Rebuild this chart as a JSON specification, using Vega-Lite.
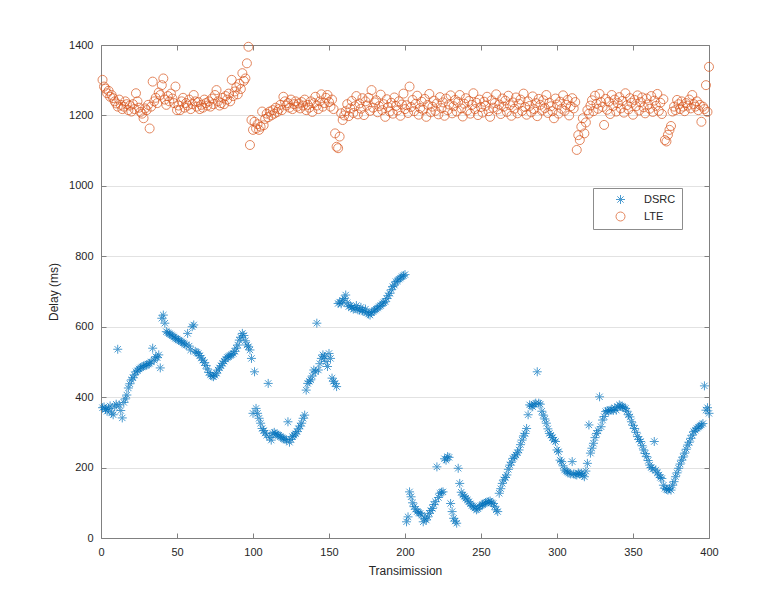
{
"$schema":"https://vega.github.io/schema/vega-lite/v6.json",
"width":608,"height":493,
"autosize":{"type":"none"},
"padding":{"left":101,"top":45,"right":75,"bottom":67},
"background":"white",
"config":{"view":{"stroke":null},
"axis":{"domainColor":"#808080","tickColor":"#808080","labelColor":"#262626","titleColor":"#262626","labelFont":"Liberation Sans","titleFont":"Liberation Sans","labelFontSize":11,"titleFontSize":12,"titleFontWeight":"normal","tickSize":-5,"labelPadding":13,"gridColor":"#e2e2e2","domainWidth":1,"tickWidth":1,"labelFlush":false,"labelOverlap":false,"format":"d"},
"legend":{"orient":"none","legendX":492,"legendY":143,"strokeColor":"#8c8c8c","fillColor":"white","padding":6,"labelFont":"Liberation Sans","labelFontSize":11,"labelColor":"#262626","symbolStrokeWidth":1,"symbolSize":81,"rowPadding":4,"symbolOffset":16,"labelOffset":18}},
"data":{"values":[
{"t":1,"s":"DSRC","v":370},{"t":2,"s":"DSRC","v":372},{"t":3,"s":"DSRC","v":365},{"t":4,"s":"DSRC","v":360},{"t":5,"s":"DSRC","v":368},{"t":6,"s":"DSRC","v":375},{"t":7,"s":"DSRC","v":355},{"t":8,"s":"DSRC","v":350},{"t":9,"s":"DSRC","v":372},{"t":10,"s":"DSRC","v":380},
{"t":11,"s":"DSRC","v":536},{"t":12,"s":"DSRC","v":378},{"t":13,"s":"DSRC","v":362},{"t":14,"s":"DSRC","v":341},{"t":15,"s":"DSRC","v":385},{"t":16,"s":"DSRC","v":395},{"t":17,"s":"DSRC","v":406},{"t":18,"s":"DSRC","v":426},{"t":19,"s":"DSRC","v":438},{"t":20,"s":"DSRC","v":449},
{"t":21,"s":"DSRC","v":455},{"t":22,"s":"DSRC","v":463},{"t":23,"s":"DSRC","v":472},{"t":24,"s":"DSRC","v":475},{"t":25,"s":"DSRC","v":480},{"t":26,"s":"DSRC","v":483},{"t":27,"s":"DSRC","v":486},{"t":28,"s":"DSRC","v":488},{"t":29,"s":"DSRC","v":490},{"t":30,"s":"DSRC","v":491},
{"t":31,"s":"DSRC","v":494},{"t":32,"s":"DSRC","v":496},{"t":33,"s":"DSRC","v":500},{"t":34,"s":"DSRC","v":539},{"t":35,"s":"DSRC","v":505},{"t":36,"s":"DSRC","v":515},{"t":37,"s":"DSRC","v":512},{"t":38,"s":"DSRC","v":520},{"t":39,"s":"DSRC","v":483},{"t":40,"s":"DSRC","v":624},
{"t":41,"s":"DSRC","v":633},{"t":42,"s":"DSRC","v":610},{"t":43,"s":"DSRC","v":586},{"t":44,"s":"DSRC","v":583},{"t":45,"s":"DSRC","v":580},{"t":46,"s":"DSRC","v":577},{"t":47,"s":"DSRC","v":574},{"t":48,"s":"DSRC","v":571},{"t":49,"s":"DSRC","v":567},{"t":50,"s":"DSRC","v":565},
{"t":51,"s":"DSRC","v":562},{"t":52,"s":"DSRC","v":560},{"t":53,"s":"DSRC","v":557},{"t":54,"s":"DSRC","v":554},{"t":55,"s":"DSRC","v":551},{"t":56,"s":"DSRC","v":548},{"t":57,"s":"DSRC","v":581},{"t":58,"s":"DSRC","v":545},{"t":59,"s":"DSRC","v":534},{"t":60,"s":"DSRC","v":600},
{"t":61,"s":"DSRC","v":605},{"t":62,"s":"DSRC","v":530},{"t":63,"s":"DSRC","v":527},{"t":64,"s":"DSRC","v":524},{"t":65,"s":"DSRC","v":518},{"t":66,"s":"DSRC","v":511},{"t":67,"s":"DSRC","v":505},{"t":68,"s":"DSRC","v":498},{"t":69,"s":"DSRC","v":490},{"t":70,"s":"DSRC","v":480},
{"t":71,"s":"DSRC","v":470},{"t":72,"s":"DSRC","v":463},{"t":73,"s":"DSRC","v":460},{"t":74,"s":"DSRC","v":458},{"t":75,"s":"DSRC","v":462},{"t":76,"s":"DSRC","v":468},{"t":77,"s":"DSRC","v":477},{"t":78,"s":"DSRC","v":483},{"t":79,"s":"DSRC","v":489},{"t":80,"s":"DSRC","v":496},
{"t":81,"s":"DSRC","v":502},{"t":82,"s":"DSRC","v":508},{"t":83,"s":"DSRC","v":513},{"t":84,"s":"DSRC","v":515},{"t":85,"s":"DSRC","v":518},{"t":86,"s":"DSRC","v":521},{"t":87,"s":"DSRC","v":524},{"t":88,"s":"DSRC","v":530},{"t":89,"s":"DSRC","v":539},{"t":90,"s":"DSRC","v":548},
{"t":91,"s":"DSRC","v":562},{"t":92,"s":"DSRC","v":570},{"t":93,"s":"DSRC","v":581},{"t":94,"s":"DSRC","v":575},{"t":95,"s":"DSRC","v":560},{"t":96,"s":"DSRC","v":548},{"t":97,"s":"DSRC","v":543},{"t":98,"s":"DSRC","v":534},{"t":99,"s":"DSRC","v":510},{"t":100,"s":"DSRC","v":354},
{"t":101,"s":"DSRC","v":472},{"t":102,"s":"DSRC","v":368},{"t":103,"s":"DSRC","v":354},{"t":104,"s":"DSRC","v":340},{"t":105,"s":"DSRC","v":326},{"t":106,"s":"DSRC","v":311},{"t":107,"s":"DSRC","v":305},{"t":108,"s":"DSRC","v":298},{"t":109,"s":"DSRC","v":292},{"t":110,"s":"DSRC","v":439},
{"t":111,"s":"DSRC","v":285},{"t":112,"s":"DSRC","v":278},{"t":113,"s":"DSRC","v":297},{"t":114,"s":"DSRC","v":300},{"t":115,"s":"DSRC","v":295},{"t":116,"s":"DSRC","v":293},{"t":117,"s":"DSRC","v":292},{"t":118,"s":"DSRC","v":288},{"t":119,"s":"DSRC","v":285},{"t":120,"s":"DSRC","v":282},
{"t":121,"s":"DSRC","v":280},{"t":122,"s":"DSRC","v":278},{"t":123,"s":"DSRC","v":330},{"t":124,"s":"DSRC","v":272},{"t":125,"s":"DSRC","v":280},{"t":126,"s":"DSRC","v":288},{"t":127,"s":"DSRC","v":292},{"t":128,"s":"DSRC","v":296},{"t":129,"s":"DSRC","v":302},{"t":130,"s":"DSRC","v":310},
{"t":131,"s":"DSRC","v":318},{"t":132,"s":"DSRC","v":326},{"t":133,"s":"DSRC","v":340},{"t":134,"s":"DSRC","v":349},{"t":135,"s":"DSRC","v":420},{"t":136,"s":"DSRC","v":439},{"t":137,"s":"DSRC","v":445},{"t":138,"s":"DSRC","v":449},{"t":139,"s":"DSRC","v":460},{"t":140,"s":"DSRC","v":477},
{"t":141,"s":"DSRC","v":472},{"t":142,"s":"DSRC","v":610},{"t":143,"s":"DSRC","v":477},{"t":144,"s":"DSRC","v":495},{"t":145,"s":"DSRC","v":510},{"t":146,"s":"DSRC","v":520},{"t":147,"s":"DSRC","v":515},{"t":148,"s":"DSRC","v":501},{"t":149,"s":"DSRC","v":487},{"t":150,"s":"DSRC","v":524},
{"t":151,"s":"DSRC","v":510},{"t":152,"s":"DSRC","v":454},{"t":153,"s":"DSRC","v":445},{"t":154,"s":"DSRC","v":439},{"t":155,"s":"DSRC","v":430},{"t":156,"s":"DSRC","v":666},{"t":157,"s":"DSRC","v":670},{"t":158,"s":"DSRC","v":665},{"t":159,"s":"DSRC","v":675},{"t":160,"s":"DSRC","v":680},
{"t":161,"s":"DSRC","v":690},{"t":162,"s":"DSRC","v":668},{"t":163,"s":"DSRC","v":657},{"t":164,"s":"DSRC","v":660},{"t":165,"s":"DSRC","v":655},{"t":166,"s":"DSRC","v":650},{"t":167,"s":"DSRC","v":652},{"t":168,"s":"DSRC","v":660},{"t":169,"s":"DSRC","v":648},{"t":170,"s":"DSRC","v":647},
{"t":171,"s":"DSRC","v":655},{"t":172,"s":"DSRC","v":645},{"t":173,"s":"DSRC","v":643},{"t":174,"s":"DSRC","v":650},{"t":175,"s":"DSRC","v":640},{"t":176,"s":"DSRC","v":636},{"t":177,"s":"DSRC","v":633},{"t":178,"s":"DSRC","v":640},{"t":179,"s":"DSRC","v":643},{"t":180,"s":"DSRC","v":647},
{"t":181,"s":"DSRC","v":650},{"t":182,"s":"DSRC","v":653},{"t":183,"s":"DSRC","v":657},{"t":184,"s":"DSRC","v":660},{"t":185,"s":"DSRC","v":665},{"t":186,"s":"DSRC","v":668},{"t":187,"s":"DSRC","v":671},{"t":188,"s":"DSRC","v":680},{"t":189,"s":"DSRC","v":688},{"t":190,"s":"DSRC","v":695},
{"t":191,"s":"DSRC","v":705},{"t":192,"s":"DSRC","v":714},{"t":193,"s":"DSRC","v":718},{"t":194,"s":"DSRC","v":728},{"t":195,"s":"DSRC","v":730},{"t":196,"s":"DSRC","v":735},{"t":197,"s":"DSRC","v":738},{"t":198,"s":"DSRC","v":742},{"t":199,"s":"DSRC","v":745},{"t":200,"s":"DSRC","v":748},
{"t":201,"s":"DSRC","v":46},{"t":202,"s":"DSRC","v":60},{"t":203,"s":"DSRC","v":131},{"t":204,"s":"DSRC","v":117},{"t":205,"s":"DSRC","v":100},{"t":206,"s":"DSRC","v":89},{"t":207,"s":"DSRC","v":82},{"t":208,"s":"DSRC","v":75},{"t":209,"s":"DSRC","v":72},{"t":210,"s":"DSRC","v":70},
{"t":211,"s":"DSRC","v":65},{"t":212,"s":"DSRC","v":46},{"t":213,"s":"DSRC","v":55},{"t":214,"s":"DSRC","v":51},{"t":215,"s":"DSRC","v":60},{"t":216,"s":"DSRC","v":70},{"t":217,"s":"DSRC","v":78},{"t":218,"s":"DSRC","v":84},{"t":219,"s":"DSRC","v":95},{"t":220,"s":"DSRC","v":103},
{"t":221,"s":"DSRC","v":202},{"t":222,"s":"DSRC","v":115},{"t":223,"s":"DSRC","v":127},{"t":224,"s":"DSRC","v":130},{"t":225,"s":"DSRC","v":131},{"t":226,"s":"DSRC","v":225},{"t":227,"s":"DSRC","v":221},{"t":228,"s":"DSRC","v":231},{"t":229,"s":"DSRC","v":229},{"t":230,"s":"DSRC","v":98},
{"t":231,"s":"DSRC","v":75},{"t":232,"s":"DSRC","v":56},{"t":233,"s":"DSRC","v":48},{"t":234,"s":"DSRC","v":42},{"t":235,"s":"DSRC","v":198},{"t":236,"s":"DSRC","v":155},{"t":237,"s":"DSRC","v":130},{"t":238,"s":"DSRC","v":122},{"t":239,"s":"DSRC","v":118},{"t":240,"s":"DSRC","v":113},
{"t":241,"s":"DSRC","v":108},{"t":242,"s":"DSRC","v":103},{"t":243,"s":"DSRC","v":97},{"t":244,"s":"DSRC","v":92},{"t":245,"s":"DSRC","v":89},{"t":246,"s":"DSRC","v":85},{"t":247,"s":"DSRC","v":80},{"t":248,"s":"DSRC","v":83},{"t":249,"s":"DSRC","v":89},{"t":250,"s":"DSRC","v":92},
{"t":251,"s":"DSRC","v":95},{"t":252,"s":"DSRC","v":98},{"t":253,"s":"DSRC","v":100},{"t":254,"s":"DSRC","v":102},{"t":255,"s":"DSRC","v":103},{"t":256,"s":"DSRC","v":105},{"t":257,"s":"DSRC","v":100},{"t":258,"s":"DSRC","v":98},{"t":259,"s":"DSRC","v":90},{"t":260,"s":"DSRC","v":80},
{"t":261,"s":"DSRC","v":75},{"t":262,"s":"DSRC","v":127},{"t":263,"s":"DSRC","v":140},{"t":264,"s":"DSRC","v":155},{"t":265,"s":"DSRC","v":165},{"t":266,"s":"DSRC","v":172},{"t":267,"s":"DSRC","v":179},{"t":268,"s":"DSRC","v":195},{"t":269,"s":"DSRC","v":207},{"t":270,"s":"DSRC","v":215},
{"t":271,"s":"DSRC","v":226},{"t":272,"s":"DSRC","v":230},{"t":273,"s":"DSRC","v":236},{"t":274,"s":"DSRC","v":242},{"t":275,"s":"DSRC","v":250},{"t":276,"s":"DSRC","v":265},{"t":277,"s":"DSRC","v":278},{"t":278,"s":"DSRC","v":290},{"t":279,"s":"DSRC","v":297},{"t":280,"s":"DSRC","v":311},
{"t":281,"s":"DSRC","v":350},{"t":282,"s":"DSRC","v":378},{"t":283,"s":"DSRC","v":375},{"t":284,"s":"DSRC","v":373},{"t":285,"s":"DSRC","v":380},{"t":286,"s":"DSRC","v":383},{"t":287,"s":"DSRC","v":472},{"t":288,"s":"DSRC","v":383},{"t":289,"s":"DSRC","v":380},{"t":290,"s":"DSRC","v":360},
{"t":291,"s":"DSRC","v":349},{"t":292,"s":"DSRC","v":338},{"t":293,"s":"DSRC","v":326},{"t":294,"s":"DSRC","v":310},{"t":295,"s":"DSRC","v":297},{"t":296,"s":"DSRC","v":292},{"t":297,"s":"DSRC","v":285},{"t":298,"s":"DSRC","v":278},{"t":299,"s":"DSRC","v":274},{"t":300,"s":"DSRC","v":250},
{"t":301,"s":"DSRC","v":245},{"t":302,"s":"DSRC","v":221},{"t":303,"s":"DSRC","v":217},{"t":304,"s":"DSRC","v":205},{"t":305,"s":"DSRC","v":193},{"t":306,"s":"DSRC","v":190},{"t":307,"s":"DSRC","v":187},{"t":308,"s":"DSRC","v":184},{"t":309,"s":"DSRC","v":182},{"t":310,"s":"DSRC","v":217},
{"t":311,"s":"DSRC","v":182},{"t":312,"s":"DSRC","v":180},{"t":313,"s":"DSRC","v":179},{"t":314,"s":"DSRC","v":185},{"t":315,"s":"DSRC","v":182},{"t":316,"s":"DSRC","v":184},{"t":317,"s":"DSRC","v":178},{"t":318,"s":"DSRC","v":174},{"t":319,"s":"DSRC","v":190},{"t":320,"s":"DSRC","v":212},
{"t":321,"s":"DSRC","v":321},{"t":322,"s":"DSRC","v":241},{"t":323,"s":"DSRC","v":255},{"t":324,"s":"DSRC","v":269},{"t":325,"s":"DSRC","v":285},{"t":326,"s":"DSRC","v":297},{"t":327,"s":"DSRC","v":305},{"t":328,"s":"DSRC","v":401},{"t":329,"s":"DSRC","v":316},{"t":330,"s":"DSRC","v":335},
{"t":331,"s":"DSRC","v":345},{"t":332,"s":"DSRC","v":359},{"t":333,"s":"DSRC","v":362},{"t":334,"s":"DSRC","v":360},{"t":335,"s":"DSRC","v":363},{"t":336,"s":"DSRC","v":365},{"t":337,"s":"DSRC","v":362},{"t":338,"s":"DSRC","v":370},{"t":339,"s":"DSRC","v":363},{"t":340,"s":"DSRC","v":372},
{"t":341,"s":"DSRC","v":378},{"t":342,"s":"DSRC","v":375},{"t":343,"s":"DSRC","v":373},{"t":344,"s":"DSRC","v":370},{"t":345,"s":"DSRC","v":368},{"t":346,"s":"DSRC","v":360},{"t":347,"s":"DSRC","v":350},{"t":348,"s":"DSRC","v":344},{"t":349,"s":"DSRC","v":330},{"t":350,"s":"DSRC","v":320},
{"t":351,"s":"DSRC","v":311},{"t":352,"s":"DSRC","v":300},{"t":353,"s":"DSRC","v":288},{"t":354,"s":"DSRC","v":280},{"t":355,"s":"DSRC","v":274},{"t":356,"s":"DSRC","v":262},{"t":357,"s":"DSRC","v":250},{"t":358,"s":"DSRC","v":240},{"t":359,"s":"DSRC","v":231},{"t":360,"s":"DSRC","v":220},
{"t":361,"s":"DSRC","v":207},{"t":362,"s":"DSRC","v":200},{"t":363,"s":"DSRC","v":196},{"t":364,"s":"DSRC","v":274},{"t":365,"s":"DSRC","v":193},{"t":366,"s":"DSRC","v":185},{"t":367,"s":"DSRC","v":179},{"t":368,"s":"DSRC","v":172},{"t":369,"s":"DSRC","v":169},{"t":370,"s":"DSRC","v":150},
{"t":371,"s":"DSRC","v":141},{"t":372,"s":"DSRC","v":138},{"t":373,"s":"DSRC","v":136},{"t":374,"s":"DSRC","v":140},{"t":375,"s":"DSRC","v":136},{"t":376,"s":"DSRC","v":150},{"t":377,"s":"DSRC","v":160},{"t":378,"s":"DSRC","v":174},{"t":379,"s":"DSRC","v":185},{"t":380,"s":"DSRC","v":198},
{"t":381,"s":"DSRC","v":210},{"t":382,"s":"DSRC","v":221},{"t":383,"s":"DSRC","v":230},{"t":384,"s":"DSRC","v":241},{"t":385,"s":"DSRC","v":252},{"t":386,"s":"DSRC","v":264},{"t":387,"s":"DSRC","v":272},{"t":388,"s":"DSRC","v":283},{"t":389,"s":"DSRC","v":292},{"t":390,"s":"DSRC","v":302},
{"t":391,"s":"DSRC","v":306},{"t":392,"s":"DSRC","v":311},{"t":393,"s":"DSRC","v":315},{"t":394,"s":"DSRC","v":318},{"t":395,"s":"DSRC","v":321},{"t":396,"s":"DSRC","v":325},{"t":397,"s":"DSRC","v":432},{"t":398,"s":"DSRC","v":363},{"t":399,"s":"DSRC","v":370},{"t":400,"s":"DSRC","v":354},
{"t":1,"s":"LTE","v":1301},{"t":2,"s":"LTE","v":1282},{"t":3,"s":"LTE","v":1276},{"t":4,"s":"LTE","v":1263},{"t":5,"s":"LTE","v":1270},{"t":6,"s":"LTE","v":1253},{"t":7,"s":"LTE","v":1258},{"t":8,"s":"LTE","v":1249},{"t":9,"s":"LTE","v":1240},{"t":10,"s":"LTE","v":1234},
{"t":11,"s":"LTE","v":1225},{"t":12,"s":"LTE","v":1245},{"t":13,"s":"LTE","v":1230},{"t":14,"s":"LTE","v":1218},{"t":15,"s":"LTE","v":1225},{"t":16,"s":"LTE","v":1240},{"t":17,"s":"LTE","v":1232},{"t":18,"s":"LTE","v":1215},{"t":19,"s":"LTE","v":1228},{"t":20,"s":"LTE","v":1211},
{"t":21,"s":"LTE","v":1232},{"t":22,"s":"LTE","v":1218},{"t":23,"s":"LTE","v":1263},{"t":24,"s":"LTE","v":1240},{"t":25,"s":"LTE","v":1222},{"t":26,"s":"LTE","v":1210},{"t":27,"s":"LTE","v":1205},{"t":28,"s":"LTE","v":1192},{"t":29,"s":"LTE","v":1220},{"t":30,"s":"LTE","v":1215},
{"t":31,"s":"LTE","v":1230},{"t":32,"s":"LTE","v":1163},{"t":33,"s":"LTE","v":1225},{"t":34,"s":"LTE","v":1296},{"t":35,"s":"LTE","v":1240},{"t":36,"s":"LTE","v":1250},{"t":37,"s":"LTE","v":1235},{"t":38,"s":"LTE","v":1265},{"t":39,"s":"LTE","v":1258},{"t":40,"s":"LTE","v":1286},
{"t":41,"s":"LTE","v":1305},{"t":42,"s":"LTE","v":1245},{"t":43,"s":"LTE","v":1230},{"t":44,"s":"LTE","v":1255},{"t":45,"s":"LTE","v":1240},{"t":46,"s":"LTE","v":1262},{"t":47,"s":"LTE","v":1248},{"t":48,"s":"LTE","v":1235},{"t":49,"s":"LTE","v":1282},{"t":50,"s":"LTE","v":1215},
{"t":51,"s":"LTE","v":1228},{"t":52,"s":"LTE","v":1215},{"t":53,"s":"LTE","v":1240},{"t":54,"s":"LTE","v":1250},{"t":55,"s":"LTE","v":1222},{"t":56,"s":"LTE","v":1235},{"t":57,"s":"LTE","v":1228},{"t":58,"s":"LTE","v":1245},{"t":59,"s":"LTE","v":1218},{"t":60,"s":"LTE","v":1232},
{"t":61,"s":"LTE","v":1258},{"t":62,"s":"LTE","v":1240},{"t":63,"s":"LTE","v":1225},{"t":64,"s":"LTE","v":1238},{"t":65,"s":"LTE","v":1218},{"t":66,"s":"LTE","v":1230},{"t":67,"s":"LTE","v":1222},{"t":68,"s":"LTE","v":1245},{"t":69,"s":"LTE","v":1235},{"t":70,"s":"LTE","v":1228},
{"t":71,"s":"LTE","v":1240},{"t":72,"s":"LTE","v":1225},{"t":73,"s":"LTE","v":1248},{"t":74,"s":"LTE","v":1232},{"t":75,"s":"LTE","v":1258},{"t":76,"s":"LTE","v":1272},{"t":77,"s":"LTE","v":1240},{"t":78,"s":"LTE","v":1228},{"t":79,"s":"LTE","v":1235},{"t":80,"s":"LTE","v":1250},
{"t":81,"s":"LTE","v":1232},{"t":82,"s":"LTE","v":1255},{"t":83,"s":"LTE","v":1245},{"t":84,"s":"LTE","v":1262},{"t":85,"s":"LTE","v":1240},{"t":86,"s":"LTE","v":1301},{"t":87,"s":"LTE","v":1255},{"t":88,"s":"LTE","v":1268},{"t":89,"s":"LTE","v":1280},{"t":90,"s":"LTE","v":1260},
{"t":91,"s":"LTE","v":1290},{"t":92,"s":"LTE","v":1275},{"t":93,"s":"LTE","v":1320},{"t":94,"s":"LTE","v":1298},{"t":95,"s":"LTE","v":1305},{"t":96,"s":"LTE","v":1348},{"t":97,"s":"LTE","v":1395},{"t":98,"s":"LTE","v":1116},{"t":99,"s":"LTE","v":1187},{"t":100,"s":"LTE","v":1159},
{"t":101,"s":"LTE","v":1182},{"t":102,"s":"LTE","v":1163},{"t":103,"s":"LTE","v":1175},{"t":104,"s":"LTE","v":1159},{"t":105,"s":"LTE","v":1168},{"t":106,"s":"LTE","v":1211},{"t":107,"s":"LTE","v":1172},{"t":108,"s":"LTE","v":1190},{"t":109,"s":"LTE","v":1205},{"t":110,"s":"LTE","v":1195},
{"t":111,"s":"LTE","v":1211},{"t":112,"s":"LTE","v":1200},{"t":113,"s":"LTE","v":1215},{"t":114,"s":"LTE","v":1205},{"t":115,"s":"LTE","v":1222},{"t":116,"s":"LTE","v":1210},{"t":117,"s":"LTE","v":1218},{"t":118,"s":"LTE","v":1230},{"t":119,"s":"LTE","v":1215},{"t":120,"s":"LTE","v":1253},
{"t":121,"s":"LTE","v":1240},{"t":122,"s":"LTE","v":1228},{"t":123,"s":"LTE","v":1235},{"t":124,"s":"LTE","v":1222},{"t":125,"s":"LTE","v":1245},{"t":126,"s":"LTE","v":1218},{"t":127,"s":"LTE","v":1232},{"t":128,"s":"LTE","v":1240},{"t":129,"s":"LTE","v":1225},{"t":130,"s":"LTE","v":1234},
{"t":131,"s":"LTE","v":1220},{"t":132,"s":"LTE","v":1238},{"t":133,"s":"LTE","v":1228},{"t":134,"s":"LTE","v":1245},{"t":135,"s":"LTE","v":1215},{"t":136,"s":"LTE","v":1230},{"t":137,"s":"LTE","v":1222},{"t":138,"s":"LTE","v":1240},{"t":139,"s":"LTE","v":1210},{"t":140,"s":"LTE","v":1235},
{"t":141,"s":"LTE","v":1253},{"t":142,"s":"LTE","v":1228},{"t":143,"s":"LTE","v":1218},{"t":144,"s":"LTE","v":1240},{"t":145,"s":"LTE","v":1260},{"t":146,"s":"LTE","v":1225},{"t":147,"s":"LTE","v":1235},{"t":148,"s":"LTE","v":1250},{"t":149,"s":"LTE","v":1258},{"t":150,"s":"LTE","v":1238},
{"t":151,"s":"LTE","v":1225},{"t":152,"s":"LTE","v":1245},{"t":153,"s":"LTE","v":1218},{"t":154,"s":"LTE","v":1149},{"t":155,"s":"LTE","v":1111},{"t":156,"s":"LTE","v":1107},{"t":157,"s":"LTE","v":1140},{"t":158,"s":"LTE","v":1206},{"t":159,"s":"LTE","v":1187},{"t":160,"s":"LTE","v":1200},
{"t":161,"s":"LTE","v":1212},{"t":162,"s":"LTE","v":1232},{"t":163,"s":"LTE","v":1198},{"t":164,"s":"LTE","v":1220},{"t":165,"s":"LTE","v":1241},{"t":166,"s":"LTE","v":1207},{"t":167,"s":"LTE","v":1226},{"t":168,"s":"LTE","v":1255},{"t":169,"s":"LTE","v":1203},{"t":170,"s":"LTE","v":1234},
{"t":171,"s":"LTE","v":1219},{"t":172,"s":"LTE","v":1249},{"t":173,"s":"LTE","v":1201},{"t":174,"s":"LTE","v":1240},{"t":175,"s":"LTE","v":1228},{"t":176,"s":"LTE","v":1250},{"t":177,"s":"LTE","v":1213},{"t":178,"s":"LTE","v":1272},{"t":179,"s":"LTE","v":1222},{"t":180,"s":"LTE","v":1237},
{"t":181,"s":"LTE","v":1243},{"t":182,"s":"LTE","v":1209},{"t":183,"s":"LTE","v":1226},{"t":184,"s":"LTE","v":1259},{"t":185,"s":"LTE","v":1215},{"t":186,"s":"LTE","v":1232},{"t":187,"s":"LTE","v":1196},{"t":188,"s":"LTE","v":1246},{"t":189,"s":"LTE","v":1224},{"t":190,"s":"LTE","v":1211},
{"t":191,"s":"LTE","v":1236},{"t":192,"s":"LTE","v":1205},{"t":193,"s":"LTE","v":1251},{"t":194,"s":"LTE","v":1227},{"t":195,"s":"LTE","v":1214},{"t":196,"s":"LTE","v":1240},{"t":197,"s":"LTE","v":1199},{"t":198,"s":"LTE","v":1231},{"t":199,"s":"LTE","v":1262},{"t":200,"s":"LTE","v":1218},
{"t":201,"s":"LTE","v":1229},{"t":202,"s":"LTE","v":1207},{"t":203,"s":"LTE","v":1282},{"t":204,"s":"LTE","v":1224},{"t":205,"s":"LTE","v":1244},{"t":206,"s":"LTE","v":1212},{"t":207,"s":"LTE","v":1233},{"t":208,"s":"LTE","v":1256},{"t":209,"s":"LTE","v":1202},{"t":210,"s":"LTE","v":1221},
{"t":211,"s":"LTE","v":1239},{"t":212,"s":"LTE","v":1216},{"t":213,"s":"LTE","v":1247},{"t":214,"s":"LTE","v":1196},{"t":215,"s":"LTE","v":1230},{"t":216,"s":"LTE","v":1261},{"t":217,"s":"LTE","v":1209},{"t":218,"s":"LTE","v":1225},{"t":219,"s":"LTE","v":1242},{"t":220,"s":"LTE","v":1213},
{"t":221,"s":"LTE","v":1234},{"t":222,"s":"LTE","v":1203},{"t":223,"s":"LTE","v":1252},{"t":224,"s":"LTE","v":1221},{"t":225,"s":"LTE","v":1237},{"t":226,"s":"LTE","v":1199},{"t":227,"s":"LTE","v":1248},{"t":228,"s":"LTE","v":1215},{"t":229,"s":"LTE","v":1231},{"t":230,"s":"LTE","v":1257},
{"t":231,"s":"LTE","v":1206},{"t":232,"s":"LTE","v":1226},{"t":233,"s":"LTE","v":1244},{"t":234,"s":"LTE","v":1211},{"t":235,"s":"LTE","v":1238},{"t":236,"s":"LTE","v":1258},{"t":237,"s":"LTE","v":1220},{"t":238,"s":"LTE","v":1197},{"t":239,"s":"LTE","v":1233},{"t":240,"s":"LTE","v":1249},
{"t":241,"s":"LTE","v":1214},{"t":242,"s":"LTE","v":1241},{"t":243,"s":"LTE","v":1205},{"t":244,"s":"LTE","v":1230},{"t":245,"s":"LTE","v":1263},{"t":246,"s":"LTE","v":1218},{"t":247,"s":"LTE","v":1236},{"t":248,"s":"LTE","v":1201},{"t":249,"s":"LTE","v":1245},{"t":250,"s":"LTE","v":1224},
{"t":251,"s":"LTE","v":1208},{"t":252,"s":"LTE","v":1239},{"t":253,"s":"LTE","v":1227},{"t":254,"s":"LTE","v":1253},{"t":255,"s":"LTE","v":1212},{"t":256,"s":"LTE","v":1196},{"t":257,"s":"LTE","v":1243},{"t":258,"s":"LTE","v":1222},{"t":259,"s":"LTE","v":1235},{"t":260,"s":"LTE","v":1260},
{"t":261,"s":"LTE","v":1217},{"t":262,"s":"LTE","v":1231},{"t":263,"s":"LTE","v":1204},{"t":264,"s":"LTE","v":1248},{"t":265,"s":"LTE","v":1225},{"t":266,"s":"LTE","v":1242},{"t":267,"s":"LTE","v":1210},{"t":268,"s":"LTE","v":1256},{"t":269,"s":"LTE","v":1229},{"t":270,"s":"LTE","v":1199},
{"t":271,"s":"LTE","v":1237},{"t":272,"s":"LTE","v":1219},{"t":273,"s":"LTE","v":1251},{"t":274,"s":"LTE","v":1206},{"t":275,"s":"LTE","v":1233},{"t":276,"s":"LTE","v":1245},{"t":277,"s":"LTE","v":1213},{"t":278,"s":"LTE","v":1262},{"t":279,"s":"LTE","v":1224},{"t":280,"s":"LTE","v":1202},
{"t":281,"s":"LTE","v":1240},{"t":282,"s":"LTE","v":1227},{"t":283,"s":"LTE","v":1209},{"t":284,"s":"LTE","v":1254},{"t":285,"s":"LTE","v":1218},{"t":286,"s":"LTE","v":1235},{"t":287,"s":"LTE","v":1198},{"t":288,"s":"LTE","v":1247},{"t":289,"s":"LTE","v":1230},{"t":290,"s":"LTE","v":1214},
{"t":291,"s":"LTE","v":1243},{"t":292,"s":"LTE","v":1221},{"t":293,"s":"LTE","v":1258},{"t":294,"s":"LTE","v":1207},{"t":295,"s":"LTE","v":1236},{"t":296,"s":"LTE","v":1226},{"t":297,"s":"LTE","v":1212},{"t":298,"s":"LTE","v":1192},{"t":299,"s":"LTE","v":1248},{"t":300,"s":"LTE","v":1231},
{"t":301,"s":"LTE","v":1205},{"t":302,"s":"LTE","v":1239},{"t":303,"s":"LTE","v":1219},{"t":304,"s":"LTE","v":1257},{"t":305,"s":"LTE","v":1213},{"t":306,"s":"LTE","v":1230},{"t":307,"s":"LTE","v":1244},{"t":308,"s":"LTE","v":1200},{"t":309,"s":"LTE","v":1226},{"t":310,"s":"LTE","v":1249},
{"t":311,"s":"LTE","v":1220},{"t":312,"s":"LTE","v":1238},{"t":313,"s":"LTE","v":1102},{"t":314,"s":"LTE","v":1144},{"t":315,"s":"LTE","v":1130},{"t":316,"s":"LTE","v":1168},{"t":317,"s":"LTE","v":1192},{"t":318,"s":"LTE","v":1149},{"t":319,"s":"LTE","v":1180},{"t":320,"s":"LTE","v":1215},
{"t":321,"s":"LTE","v":1205},{"t":322,"s":"LTE","v":1228},{"t":323,"s":"LTE","v":1243},{"t":324,"s":"LTE","v":1212},{"t":325,"s":"LTE","v":1256},{"t":326,"s":"LTE","v":1233},{"t":327,"s":"LTE","v":1219},{"t":328,"s":"LTE","v":1261},{"t":329,"s":"LTE","v":1238},{"t":330,"s":"LTE","v":1224},
{"t":331,"s":"LTE","v":1173},{"t":332,"s":"LTE","v":1247},{"t":333,"s":"LTE","v":1216},{"t":334,"s":"LTE","v":1239},{"t":335,"s":"LTE","v":1204},{"t":336,"s":"LTE","v":1258},{"t":337,"s":"LTE","v":1227},{"t":338,"s":"LTE","v":1245},{"t":339,"s":"LTE","v":1211},{"t":340,"s":"LTE","v":1235},
{"t":341,"s":"LTE","v":1252},{"t":342,"s":"LTE","v":1220},{"t":343,"s":"LTE","v":1241},{"t":344,"s":"LTE","v":1208},{"t":345,"s":"LTE","v":1263},{"t":346,"s":"LTE","v":1229},{"t":347,"s":"LTE","v":1217},{"t":348,"s":"LTE","v":1249},{"t":349,"s":"LTE","v":1236},{"t":350,"s":"LTE","v":1202},
{"t":351,"s":"LTE","v":1244},{"t":352,"s":"LTE","v":1226},{"t":353,"s":"LTE","v":1257},{"t":354,"s":"LTE","v":1214},{"t":355,"s":"LTE","v":1238},{"t":356,"s":"LTE","v":1251},{"t":357,"s":"LTE","v":1223},{"t":358,"s":"LTE","v":1206},{"t":359,"s":"LTE","v":1248},{"t":360,"s":"LTE","v":1231},
{"t":361,"s":"LTE","v":1219},{"t":362,"s":"LTE","v":1255},{"t":363,"s":"LTE","v":1210},{"t":364,"s":"LTE","v":1242},{"t":365,"s":"LTE","v":1227},{"t":366,"s":"LTE","v":1261},{"t":367,"s":"LTE","v":1213},{"t":368,"s":"LTE","v":1236},{"t":369,"s":"LTE","v":1204},{"t":370,"s":"LTE","v":1246},
{"t":371,"s":"LTE","v":1130},{"t":372,"s":"LTE","v":1126},{"t":373,"s":"LTE","v":1145},{"t":374,"s":"LTE","v":1159},{"t":375,"s":"LTE","v":1170},{"t":376,"s":"LTE","v":1211},{"t":377,"s":"LTE","v":1225},{"t":378,"s":"LTE","v":1215},{"t":379,"s":"LTE","v":1244},{"t":380,"s":"LTE","v":1232},
{"t":381,"s":"LTE","v":1218},{"t":382,"s":"LTE","v":1240},{"t":383,"s":"LTE","v":1225},{"t":384,"s":"LTE","v":1212},{"t":385,"s":"LTE","v":1235},{"t":386,"s":"LTE","v":1228},{"t":387,"s":"LTE","v":1245},{"t":388,"s":"LTE","v":1220},{"t":389,"s":"LTE","v":1258},{"t":390,"s":"LTE","v":1232},
{"t":391,"s":"LTE","v":1225},{"t":392,"s":"LTE","v":1240},{"t":393,"s":"LTE","v":1215},{"t":394,"s":"LTE","v":1230},{"t":395,"s":"LTE","v":1182},{"t":396,"s":"LTE","v":1225},{"t":397,"s":"LTE","v":1218},{"t":398,"s":"LTE","v":1286},{"t":399,"s":"LTE","v":1210},{"t":400,"s":"LTE","v":1338}
]},
"layer":[
{"mark":{"type":"point","filled":false,"strokeWidth":1,"size":81},
"encoding":{
"x":{"field":"t","type":"quantitative","scale":{"domain":[0,400],"nice":false,"zero":false},"axis":{"orient":"bottom","values":[0,50,100,150,200,250,300,350,400],"grid":false,"title":"Transimission","titlePadding":8}},
"y":{"field":"v","type":"quantitative","scale":{"domain":[0,1400],"nice":false},"axis":{"orient":"left","values":[0,200,400,600,800,1000,1200,1400],"grid":true,"title":"Delay (ms)","titlePadding":8}},
"color":{"field":"s","type":"nominal","scale":{"domain":["DSRC","LTE"],"range":["#0072BD","#D95319"]},"legend":{"title":null}},
"shape":{"field":"s","type":"nominal","scale":{"domain":["DSRC","LTE"],"range":["M-1,0H1M0,-1V1M-0.7,-0.7L0.7,0.7M-0.7,0.7L0.7,-0.7","circle"]},"legend":{"title":null}}
}},
{"mark":{"type":"point","opacity":0},
"encoding":{
"x":{"field":"t","type":"quantitative","axis":{"orient":"top","values":[0,50,100,150,200,250,300,350,400],"labels":false,"grid":false,"title":null}},
"y":{"field":"v","type":"quantitative","axis":{"orient":"right","values":[0,200,400,600,800,1000,1200,1400],"labels":false,"grid":false,"title":null}}
}}
]
}
